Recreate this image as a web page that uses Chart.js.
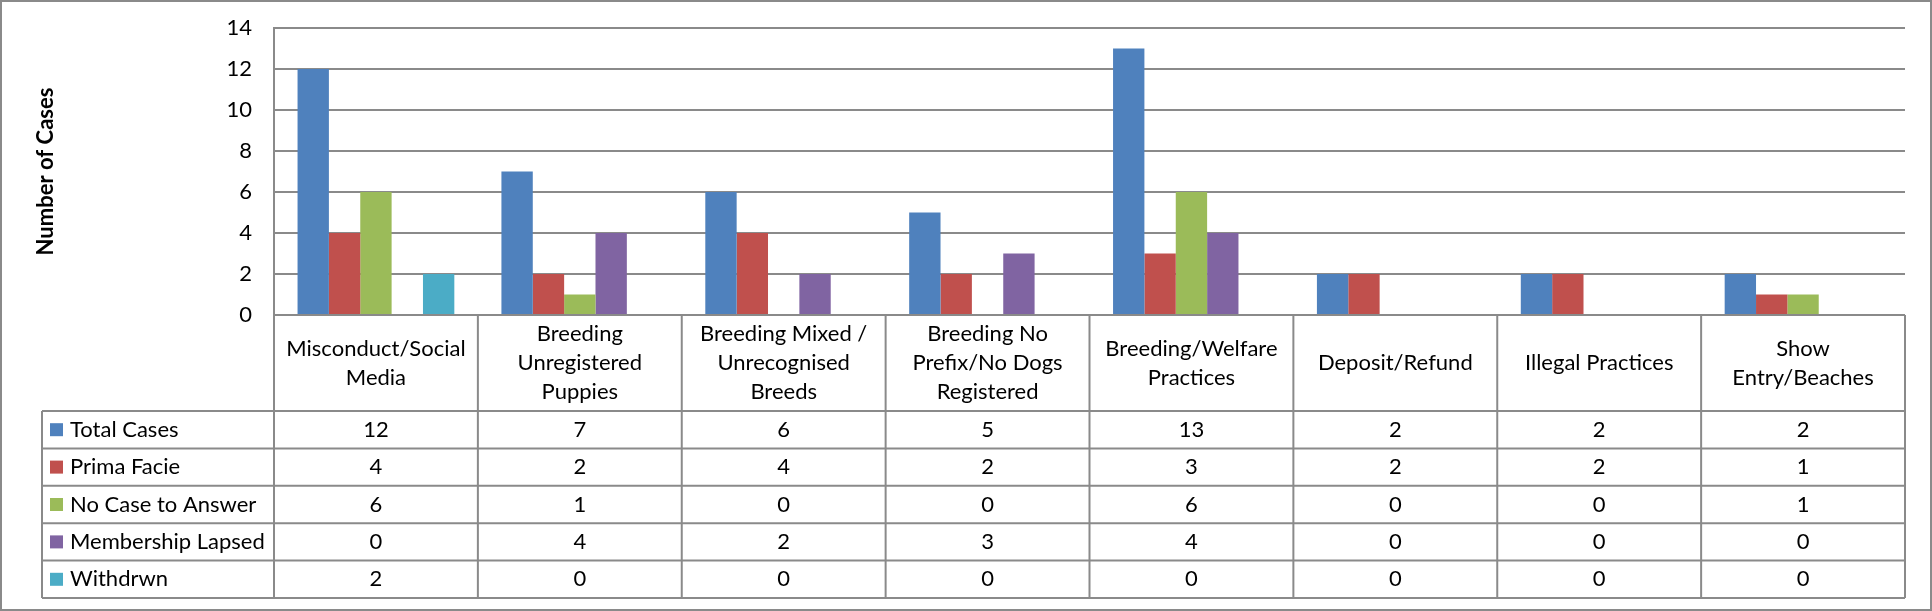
<!DOCTYPE html>
<html>
<head>
<meta charset="utf-8">
<script src="https://cdn.jsdelivr.net/npm/chart.js@4.4.0/dist/chart.umd.min.js"></script>
<style>
    html, body { margin: 0; padding: 0; background: #ffffff; }
</style>
</head>
<body>
<canvas id="graficoCasos" width="1932" height="611"></canvas>
<script>
// categories (each entry is the wrapped header text of its table column)
const categorias = [
    ["Misconduct/Social", "Media"],
    ["Breeding", "Unregistered", "Puppies"],
    ["Breeding Mixed /", "Unrecognised", "Breeds"],
    ["Breeding No", "Prefix/No Dogs", "Registered"],
    ["Breeding/Welfare", "Practices"],
    ["Deposit/Refund"],
    ["Illegal Practices"],
    ["Show", "Entry/Beaches"]
];

const totalCases = [12, 7, 6, 5, 13, 2, 2, 2];
const primaFacie = [4, 2, 4, 2, 3, 2, 2, 1];
const noCaseToAnswer = [6, 1, 0, 0, 6, 0, 0, 1];
const membershipLapsed = [0, 4, 2, 3, 4, 0, 0, 0];
const withdrwn = [2, 0, 0, 0, 0, 0, 0, 0];

const yTicks = [0, 2, 4, 6, 8, 10, 12, 14];

const fuente = "Lato";
const gris = "#8a8a8a";

const tablaDatos = {
    id: "tablaDatos",
    beforeDraw(chart) {
        const ctx = chart.ctx;
        ctx.save();
        ctx.fillStyle = "#ffffff";
        ctx.fillRect(0, 0, chart.width, chart.height);
        ctx.strokeStyle = gris;
        ctx.lineWidth = 2;
        ctx.strokeRect(1, 1, chart.width - 2, chart.height - 2);
        ctx.restore();
    },
    afterDraw(chart) {
        const ctx = chart.ctx;
        const area = chart.chartArea;
        const xScale = chart.scales.x;
        const sets = chart.data.datasets;
        const top = area.bottom;
        const headerBottom = top + 96;
        const rowH = 37.4;
        const tableLeft = 42;
        const bottom = headerBottom + rowH * sets.length;

        const linea = (x1, y1, x2, y2) => {
            ctx.beginPath();
            ctx.moveTo(x1, y1);
            ctx.lineTo(x2, y2);
            ctx.stroke();
        };

        ctx.save();
        ctx.strokeStyle = gris;
        ctx.lineWidth = 2;

        linea(area.left, top, area.right, top);
        for (let r = 0; r <= sets.length; r++) {
            linea(tableLeft, headerBottom + r * rowH, area.right, headerBottom + r * rowH);
        }
        linea(tableLeft, headerBottom, tableLeft, bottom);
        for (let i = 0; i <= categorias.length; i++) {
            const xx = xScale.getPixelForValue(i - 0.5);
            linea(xx, top, xx, bottom);
        }

        ctx.fillStyle = "#000000";
        ctx.font = "22px " + fuente;
        ctx.textAlign = "center";
        ctx.textBaseline = "middle";

        // column headers
        const lineH = 29;
        categorias.forEach((lineas, i) => {
            const cx = xScale.getPixelForValue(i);
            const cy = top + 48 - (lineas.length - 1) * lineH / 2;
            lineas.forEach((t, k) => ctx.fillText(t, cx, cy + k * lineH));
        });

        // rows
        sets.forEach((ds, r) => {
            const cy = headerBottom + r * rowH + rowH / 2;
            ctx.fillStyle = ds.backgroundColor;
            ctx.fillRect(50, cy - 6.5, 13, 13);
            ctx.fillStyle = "#000000";
            ctx.textAlign = "left";
            ctx.fillText(ds.label, 70, cy);
            ctx.textAlign = "center";
            ds.data.forEach((v, i) => {
                ctx.fillText(String(v), xScale.getPixelForValue(i), cy);
            });
        });

        ctx.restore();
    }
};

new Chart(document.getElementById("graficoCasos"), {
    type: "bar",
    data: {
        labels: categorias.map(c => c.join(" ")),
        datasets: [
            { label: "Total Cases", data: totalCases, backgroundColor: "#4f81bd" },
            { label: "Prima Facie", data: primaFacie, backgroundColor: "#c0504d" },
            { label: "No Case to Answer", data: noCaseToAnswer, backgroundColor: "#9bbb59" },
            { label: "Membership Lapsed", data: membershipLapsed, backgroundColor: "#8064a2" },
            { label: "Withdrwn", data: withdrwn, backgroundColor: "#4bacc6" }
        ]
    },
    options: {
        responsive: false,
        devicePixelRatio: 1,
        animation: false,
        categoryPercentage: 0.769,
        barPercentage: 1,
        layout: {
            padding: { left: 0, right: 27, top: 28, bottom: 296 }
        },
        plugins: {
            legend: { display: false },
            tooltip: { enabled: false }
        },
        scales: {
            x: {
                display: false,
                grid: { display: false }
            },
            y: {
                min: 0,
                max: 14,
                afterFit(scale) { scale.width = 274; },
                afterBuildTicks(scale) { scale.ticks = yTicks.map(v => ({ value: v })); },
                ticks: {
                    color: "#000000",
                    padding: 2,
                    font: { family: fuente, size: 22 }
                },
                grid: {
                    color: gris,
                    lineWidth: 2,
                    drawTicks: true,
                    tickLength: 20,
                    tickColor: "rgba(0,0,0,0)"
                },
                border: { display: true, color: gris, width: 2 },
                title: {
                    display: true,
                    text: "Number of Cases",
                    color: "#000000",
                    font: { family: fuente, size: 22, weight: "bold" },
                    padding: { top: 33 }
                }
            }
        }
    },
    plugins: [tablaDatos]
});
</script>
</body>
</html>
